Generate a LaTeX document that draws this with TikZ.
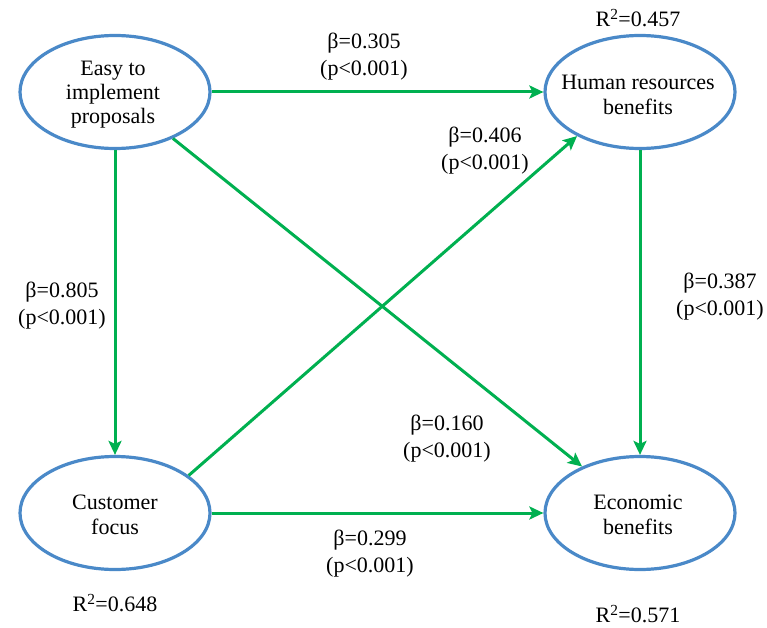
\documentclass[tikz,border=0pt]{standalone}
\usepackage{fontspec}
\setmainfont{Liberation Serif}
\usetikzlibrary{arrows.meta,shapes.geometric}
\definecolor{ovalblue}{RGB}{74,137,200}
\definecolor{pathgreen}{RGB}{0,176,80}
\tikzset{
  construct/.style={ellipse, draw=ovalblue, line width=3.2pt, minimum width=190pt,
    minimum height=113pt, inner sep=0pt, align=center,
    font=\fontsize{22}{25}\selectfont},
  path coef/.style={align=center, inner sep=0pt, font=\fontsize{22}{27}\selectfont},
  rsq/.style={inner sep=0pt, font=\fontsize{22}{25}\selectfont},
  effect/.style={draw=pathgreen, line width=3pt,
    -{Stealth[length=14pt,width=13pt,inset=3pt]}}
}
\begin{document}
\begin{tikzpicture}[x=1pt,y=-1pt]
\useasboundingbox (0,0) rectangle (767,628);

% latent constructs
\node[construct] (easy) at (115,92) {};
\node[construct] (hr)   at (640,92) {};
\node[construct] (cust) at (115,513) {};
\node[construct] (econ) at (640,513) {};

\node[align=center, inner sep=0pt, font=\fontsize{22}{24}\selectfont] (easyt) at (113,95) {Easy to\\implement\\proposals};
\node[align=center, inner sep=0pt, font=\fontsize{22}{25}\selectfont] (hrt) at (638,95) {Human resources\\benefits};
\node[align=center, inner sep=0pt, font=\fontsize{22}{25}\selectfont] (custt) at (115,515) {Customer\\focus};
\node[align=center, inner sep=0pt, font=\fontsize{22}{25}\selectfont] (econt) at (638,515) {Economic\\benefits};

% structural paths
\draw[effect] (easy) -- (hr);
\draw[effect] (easy) -- (cust);
\draw[effect] (easy) -- (econ);
\draw[effect] (cust) -- (econ);
\draw[effect] (cust.27) -- (hr.215);
\draw[effect] (hr) -- (econ);

% path coefficients
\node[path coef] (b305) at (364,57)  {β=0.305\\(p<0.001)};
\node[path coef] (b406) at (485,151) {β=0.406\\(p<0.001)};
\node[path coef] (b805) at (62,306)  {β=0.805\\(p<0.001)};
\node[path coef] (b387) at (720,297) {β=0.387\\(p<0.001)};
\node[path coef] (b160) at (447,439) {β=0.160\\(p<0.001)};
\node[path coef] (b299) at (370,554) {β=0.299\\(p<0.001)};

% explained variance
\node[rsq] (r2hr)   at (638,18)  {R\textsuperscript{2}=0.457};
\node[rsq] (r2cust) at (115,603) {R\textsuperscript{2}=0.648};
\node[rsq] (r2econ) at (638,614) {R\textsuperscript{2}=0.571};
\end{tikzpicture}
\end{document}
